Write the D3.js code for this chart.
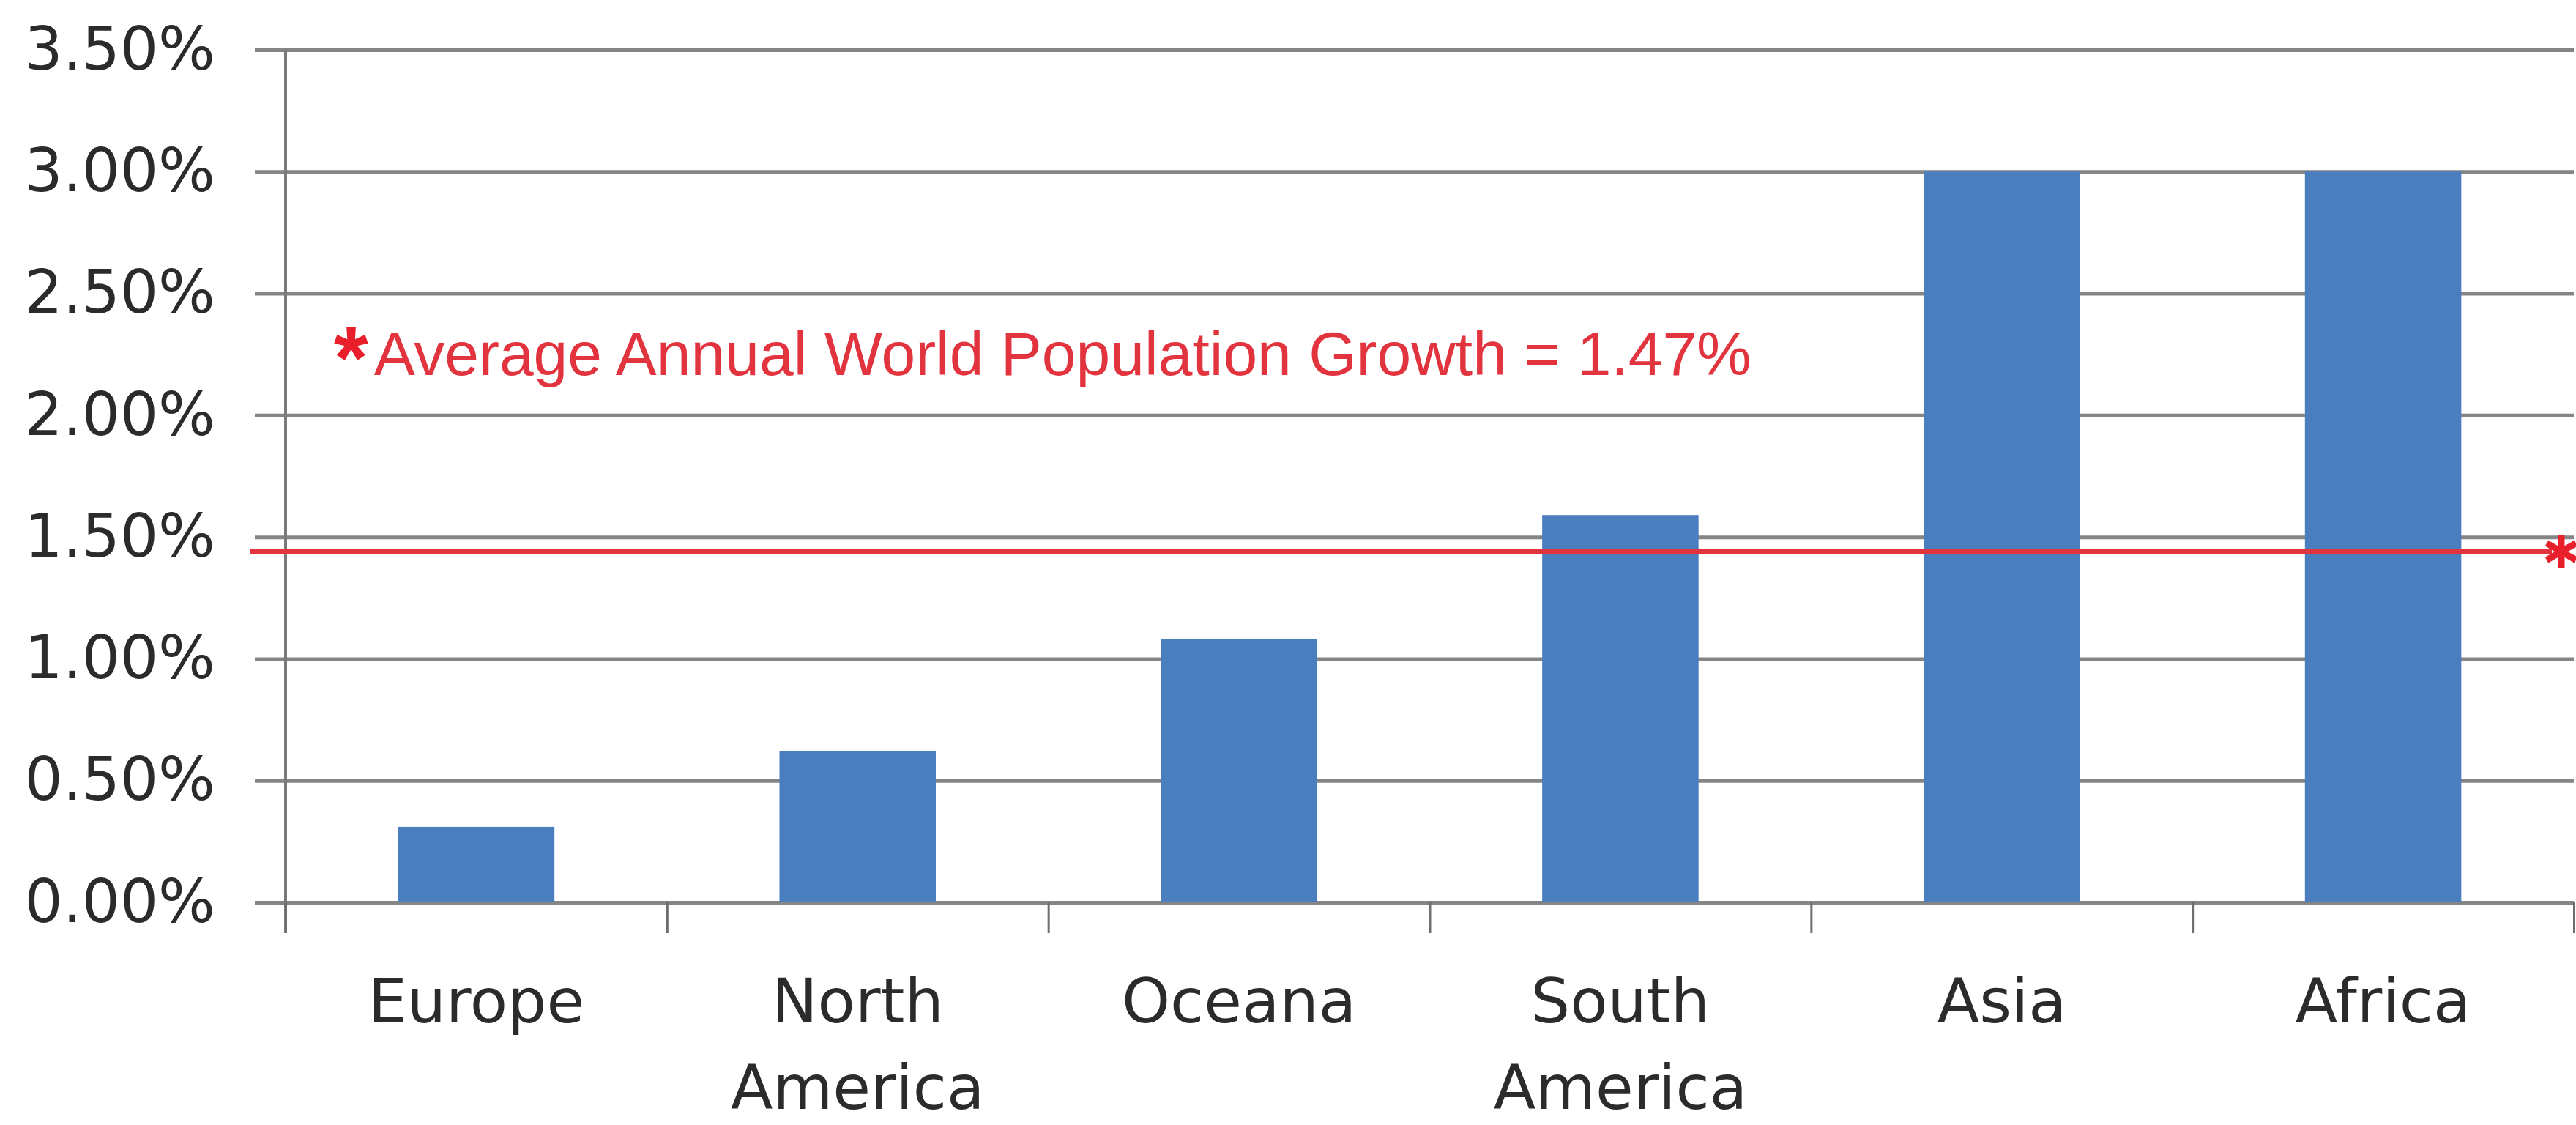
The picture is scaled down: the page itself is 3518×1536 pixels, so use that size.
<!DOCTYPE html>
<html>
<head>
<meta charset="utf-8">
<script src="https://cdn.jsdelivr.net/npm/d3@7"></script>
<style>
  body { margin: 0; background: #fff; }
</style>
</head>
<body>
<div id="dv"></div>
<script>
var categories = ["Europe", "North America", "Oceana", "South America", "Asia", "Africa"];
var growth = [0.31, 0.62, 1.08, 1.59, 3.0, 3.0];
var yTicks = [0, 0.5, 1.0, 1.5, 2.0, 2.5, 3.0, 3.5];
var worldAvgLine = [1.44];
var noteText = ["Average Annual World Population Growth = 1.47%"];

var svg = d3
  .select("div#dv")
  .append("svg")
  .attr("width", 3518)
  .attr("height", 1536);

var marginLeft = 390;
var marginTop = 68;
var width = 3125;
var height = 1164;

var g = svg.append("g").attr("transform", "translate(" + marginLeft + "," + marginTop + ")");

var x = d3.scaleBand()
  .domain(categories)
  .range([0, width])
  .paddingInner(0.59)
  .paddingOuter(0.295);

var xEdge = d3.scaleLinear()
  .domain([0, categories.length])
  .range([0, width]);

var y = d3.scaleLinear().domain([0, 3.5]).range([height, 0]);

// gridlines + y labels
var yAxis = d3.axisLeft(y)
  .tickValues(yTicks)
  .tickSize(-width)
  .tickPadding(96)
  .tickFormat(function(d) { return d.toFixed(2) + "%"; });

var gy = g.append("g").call(yAxis);
gy.select(".domain").remove();
gy.selectAll(".tick line")
  .attr("x1", -42)
  .attr("stroke", "#858585")
  .attr("stroke-width", 5);
gy.selectAll(".tick text")
  .style("font-family", "'DejaVu Sans', sans-serif")
  .style("font-size", "82px")
  .attr("fill", "#2b2b2b");

// bars
g.selectAll("rect.bar")
  .data(growth)
  .enter()
  .append("rect")
  .attr("class", "bar")
  .attr("x", function(d, i) { return x(categories[i]); })
  .attr("width", x.bandwidth())
  .attr("y", function(d) { return y(d); })
  .attr("height", function(d) { return height - y(d); })
  .attr("fill", "#4a7ebf");

// vertical axis line
g.append("line")
  .attr("x1", 0)
  .attr("x2", 0)
  .attr("y1", 0)
  .attr("y2", height + 42)
  .attr("stroke", "#7a7a7a")
  .attr("stroke-width", 4);

// category boundary ticks
var gx = g.append("g")
  .attr("transform", "translate(0," + height + ")")
  .call(d3.axisBottom(xEdge)
    .tickValues(d3.range(categories.length + 1))
    .tickSize(42)
    .tickFormat(""));
gx.select(".domain").remove();
gx.selectAll(".tick line")
  .attr("stroke", "#6e6e6e")
  .attr("stroke-width", 3);

// category labels
var gl = g.append("g")
  .attr("transform", "translate(0," + height + ")")
  .call(d3.axisBottom(x).tickSize(0));
gl.select(".domain").remove();
gl.selectAll(".tick text")
  .attr("y", 0)
  .attr("dy", null)
  .style("font-family", "'DejaVu Sans', sans-serif")
  .style("font-size", "84px")
  .attr("fill", "#2b2b2b")
  .each(function(d) {
    var t = d3.select(this);
    var lines = d.split(" ");
    t.text(null);
    lines.forEach(function(line, i) {
      t.append("tspan")
        .attr("x", 0)
        .attr("y", 164 + i * 118)
        .text(line);
    });
  });

// world average line
g.selectAll("line.avg")
  .data(worldAvgLine)
  .enter()
  .append("line")
  .attr("class", "avg")
  .attr("x1", -48)
  .attr("x2", width - 30)
  .attr("y1", function(d) { return y(d); })
  .attr("y2", function(d) { return y(d); })
  .attr("stroke", "#e2343e")
  .attr("stroke-width", 6);

g.selectAll("path.star")
  .data(worldAvgLine)
  .enter()
  .append("path")
  .attr("class", "star")
  .attr("d", d3.symbol().type(d3.symbolAsterisk || d3.symbolCross).size(1500))
  .attr("transform", function(d) { return "translate(" + (width - 17) + "," + y(d) + ")"; })
  .attr("fill", "#e8202c")
  .attr("stroke", "#e8202c")
  .attr("stroke-width", 9);

// note
var note = svg.append("text")
  .attr("x", 456)
  .attr("y", 512)
  .style("font-family", "'Liberation Sans', Arial, sans-serif")
  .attr("fill", "#e2343e");
note.append("tspan")
  .style("font-size", "120px")
  .style("font-weight", "bold")
  .attr("fill", "#e8202c")
  .attr("dy", 18)
  .text("*");
note.append("tspan")
  .style("font-size", "84px")
  .attr("dx", 8)
  .attr("dy", -18)
  .text(noteText[0]);
</script>
</body>
</html>
